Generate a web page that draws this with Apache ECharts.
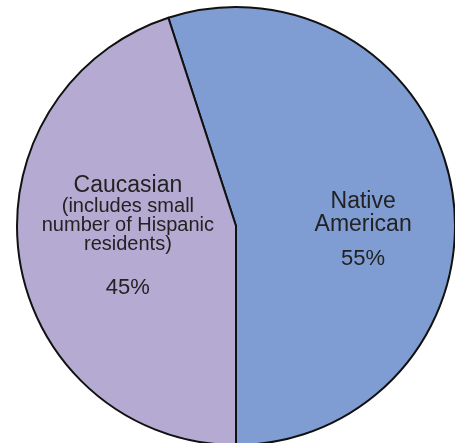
<!DOCTYPE html>
<html>
<head>
<meta charset="utf-8">
<style>
  html, body { margin: 0; padding: 0; background: #ffffff; }
  #chart { width: 455px; height: 443px; }
</style>
<script src="https://cdn.jsdelivr.net/npm/echarts@6/dist/echarts.min.js"></script>
</head>
<body>
<div id="chart"></div>
<script>
// Population share by group
const groups = ['Native American', 'Caucasian'];
const shares = [55, 45];
const groupColors = ['#7f9dd2', '#b5abd2'];

// Label text for each slice (name lines, then percentage)
const labelLines = {
  'Native American': ['{big|Native}', '{big|American}', '{gap|}', '{pct|55%}'],
  'Caucasian': ['{big|Caucasian}', '{sub|(includes small}', '{sub|number of Hispanic}', '{sub|residents)}', '{gap2|}', '{pct|45%}']
};
const labelOffsets = {
  'Native American': [16, 22],
  'Caucasian': [3, -7]
};

const data = groups.map((g, i) => ({
  name: g,
  value: shares[i],
  itemStyle: { color: groupColors[i] },
  label: { offset: labelOffsets[g] }
}));

const chart = echarts.init(document.getElementById('chart'), null, { renderer: 'canvas' });
chart.setOption({
  animation: false,
  backgroundColor: '#ffffff',
  series: [{
    type: 'pie',
    center: [236, 226],
    radius: 219,
    startAngle: 108,
    clockwise: true,
    avoidLabelOverlap: false,
    itemStyle: { borderColor: '#111111', borderWidth: 2 },
    label: {
      show: true,
      position: 'inside',
      fontFamily: 'Liberation Sans, Arial, sans-serif',
      color: '#222222',
      align: 'center',
      formatter: p => labelLines[p.name].join('\n'),
      rich: {
        big: { fontSize: 23, lineHeight: 23, color: '#222222', fontFamily: 'Liberation Sans' },
        sub: { fontSize: 20, lineHeight: 19, color: '#222222', fontFamily: 'Liberation Sans' },
        pct: { fontSize: 22, lineHeight: 23, color: '#222222', fontFamily: 'Liberation Sans' },
        gap: { fontSize: 10, lineHeight: 12 },
        gap2: { fontSize: 10, lineHeight: 22 }
      }
    },
    labelLine: { show: false },
    emphasis: { disabled: true },
    data: data
  }]
});
</script>
</body>
</html>
